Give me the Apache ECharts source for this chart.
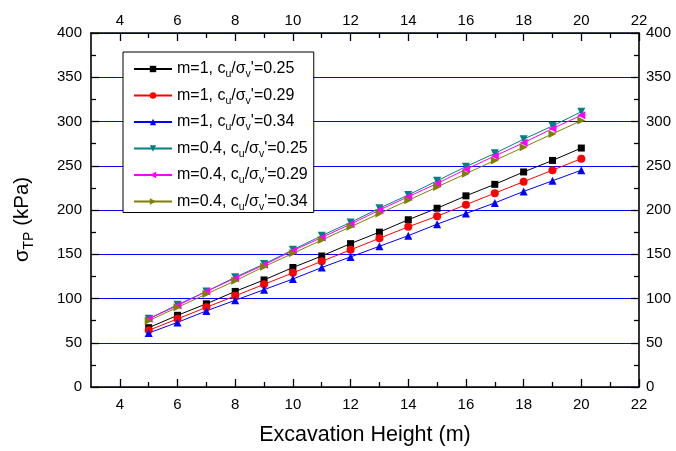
<!DOCTYPE html>
<html>
<head>
<meta charset="utf-8">
<script src="https://cdn.jsdelivr.net/npm/echarts@6/dist/echarts.min.js"></script>
<style>html,body{margin:0;padding:0;background:#fff}#c{width:676px;height:451px}</style>
</head>
<body>
<div id="c"></div>
<script>
const heights = [5,6,7,8,9,10,11,12,13,14,15,16,17,18,19,20];
const xMajorTicks = [4,6,8,10,12,14,16,18,20,22];
const xMinorTicks = [5,7,9,11,13,15,17,19,21];
const m1_025 = [67,81,94,108,121,135,148,162,175,189,202,216,229,243,256,270];
const m1_029 = [64,77,90,103,116,129,142,155,168,181,193,206,219,232,245,258];
const m1_034 = [61,73,86,98,110,122,135,147,159,171,184,196,208,221,233,245];
const m04_025 = [77,93,108,124,139,155,171,186,202,217,233,249,264,280,295,311];
const m04_029 = [77,92,108,123,138,154,169,184,200,215,230,246,261,276,292,307];
const m04_034 = [75,90,105,120,136,151,166,181,196,211,226,241,256,271,286,301];
const seriesNames = ['m=1, 0.25','m=1, 0.29','m=1, 0.34','m=0.4, 0.25','m=0.4, 0.29','m=0.4, 0.34'];
const seriesM = ['1','1','1','0.4','0.4','0.4'];
const seriesRatio = ['0.25','0.29','0.34','0.25','0.29','0.34'];
const seriesData = [m1_025,m1_029,m1_034,m04_025,m04_029,m04_034];
const colors = ['#000000','#ff0000','#0000ff','#008080','#ff00ff','#808000'];
const symbols = ['rect','circle','triangle','triangle','triangle','triangle'];
const rotates = [0,0,0,180,90,-90];

const FONT = 'Liberation Sans, Arial, sans-serif';
const chart = echarts.init(document.getElementById('c'));

const series = seriesData.map((vals,i)=>({
  name: seriesNames[i],
  type: 'line',
  xAxisIndex: 0,
  yAxisIndex: 0,
  data: heights.map((h,j)=>[h, vals[j]]),
  symbol: symbols[i],
  symbolRotate: rotates[i],
  symbolSize: i===0 ? 7 : 8,
  color: colors[i],
  lineStyle: {width: 1, color: colors[i]},
  itemStyle: {color: colors[i]},
  z: 5,
  animation: false
}));

const axisLineStyle = {show:true, lineStyle:{color:'#000', width:1.6}};
const labelStyle = {fontFamily: FONT, fontSize: 15, color:'#000'};

function xAxisMajor(pos, showName){
  return {
    type:'value', position: pos, min:3, max:22,
    axisLine: axisLineStyle,
    axisTick: {show:true, inside:true, length:8, customValues: xMajorTicks, lineStyle:{color:'#000', width:1.3}},
    axisLabel: Object.assign({show:true, margin: pos==='top' ? 5 : 10, customValues: xMajorTicks}, labelStyle),
    splitLine: {show:false},
    name: showName ? 'Excavation Height (m)' : '',
    nameLocation: 'middle', nameGap: 37,
    nameTextStyle: {fontFamily: FONT, fontSize: 21.5, color:'#000'}
  };
}
function xAxisMinor(pos){
  return {
    type:'value', position: pos, min:3, max:22,
    axisLine: {show:false},
    axisTick: {show:true, inside:true, length:5, customValues: xMinorTicks, lineStyle:{color:'#000', width:1.3}},
    axisLabel: {show:false, customValues: xMinorTicks},
    splitLine: {show:false}
  };
}

const option = {
  animation: false,
  backgroundColor: '#fff',
  grid: {left: 91, width: 548, top: 33, height: 356, containLabel: false},
  legend: {
    orient: 'vertical', left: 123, top: 52,
    backgroundColor: '#fff',
    borderColor: '#000', borderWidth: 1,
    padding: [9, 6, 0, 10],
    itemWidth: 38, itemHeight: 8, itemGap: 7.5,
    z: 10,
    textStyle: {fontFamily: FONT, fontSize: 16, color:'#000',
      rich: {
        a: {fontFamily: FONT, fontSize: 16, color:'#000', lineHeight: 22, verticalAlign:'middle'},
        s: {fontFamily: FONT, fontSize: 10.5, color:'#000', lineHeight: 10, verticalAlign:'bottom'}
      }
    },
    formatter: function(name){
      const i = seriesNames.indexOf(name);
      return '{a|m=' + seriesM[i] + ', c}{s|u}{a|/σ}{s|v}{a|\'=' + seriesRatio[i] + '}';
    },
    data: seriesNames
  },
  xAxis: [xAxisMajor('bottom', true), xAxisMinor('bottom'), xAxisMajor('top', false), xAxisMinor('top')],
  yAxis: [
    {
      type:'value', position:'left', min:0, max:400, interval:50,
      axisLine: axisLineStyle,
      axisTick: {show:true, inside:true, length:8, lineStyle:{color:'#000', width:1.3}},
      minorTick: {show:true, splitNumber:2, length:5, lineStyle:{color:'#000', width:1.3}},
      axisLabel: Object.assign({margin: 9}, labelStyle),
      splitLine: {show:true, lineStyle:{color:'rgb(0,0,255)', width:1, opacity:1, type:'solid'}},
      name: '{a|σ}{s|TP}{a| (kPa)}',
      nameLocation: 'middle', nameGap: 55,
      nameTextStyle: {fontFamily: FONT, fontSize: 20.5, color:'#000', padding:[0, 19, 0, 0],
        rich: {
          a: {fontFamily: FONT, fontSize: 20.5, color:'#000', lineHeight: 28, verticalAlign:'middle'},
          s: {fontFamily: FONT, fontSize: 14, color:'#000', lineHeight: 14, verticalAlign:'bottom'}
        }
      }
    },
    {
      type:'value', position:'right', min:0, max:400, interval:50,
      axisLine: axisLineStyle,
      axisTick: {show:true, inside:true, length:8, lineStyle:{color:'#000', width:1.3}},
      minorTick: {show:true, splitNumber:2, length:5, lineStyle:{color:'#000', width:1.3}},
      axisLabel: Object.assign({margin: 7}, labelStyle),
      splitLine: {show:false}
    }
  ],
  series: series
};
chart.setOption(option);
</script>
</body>
</html>
